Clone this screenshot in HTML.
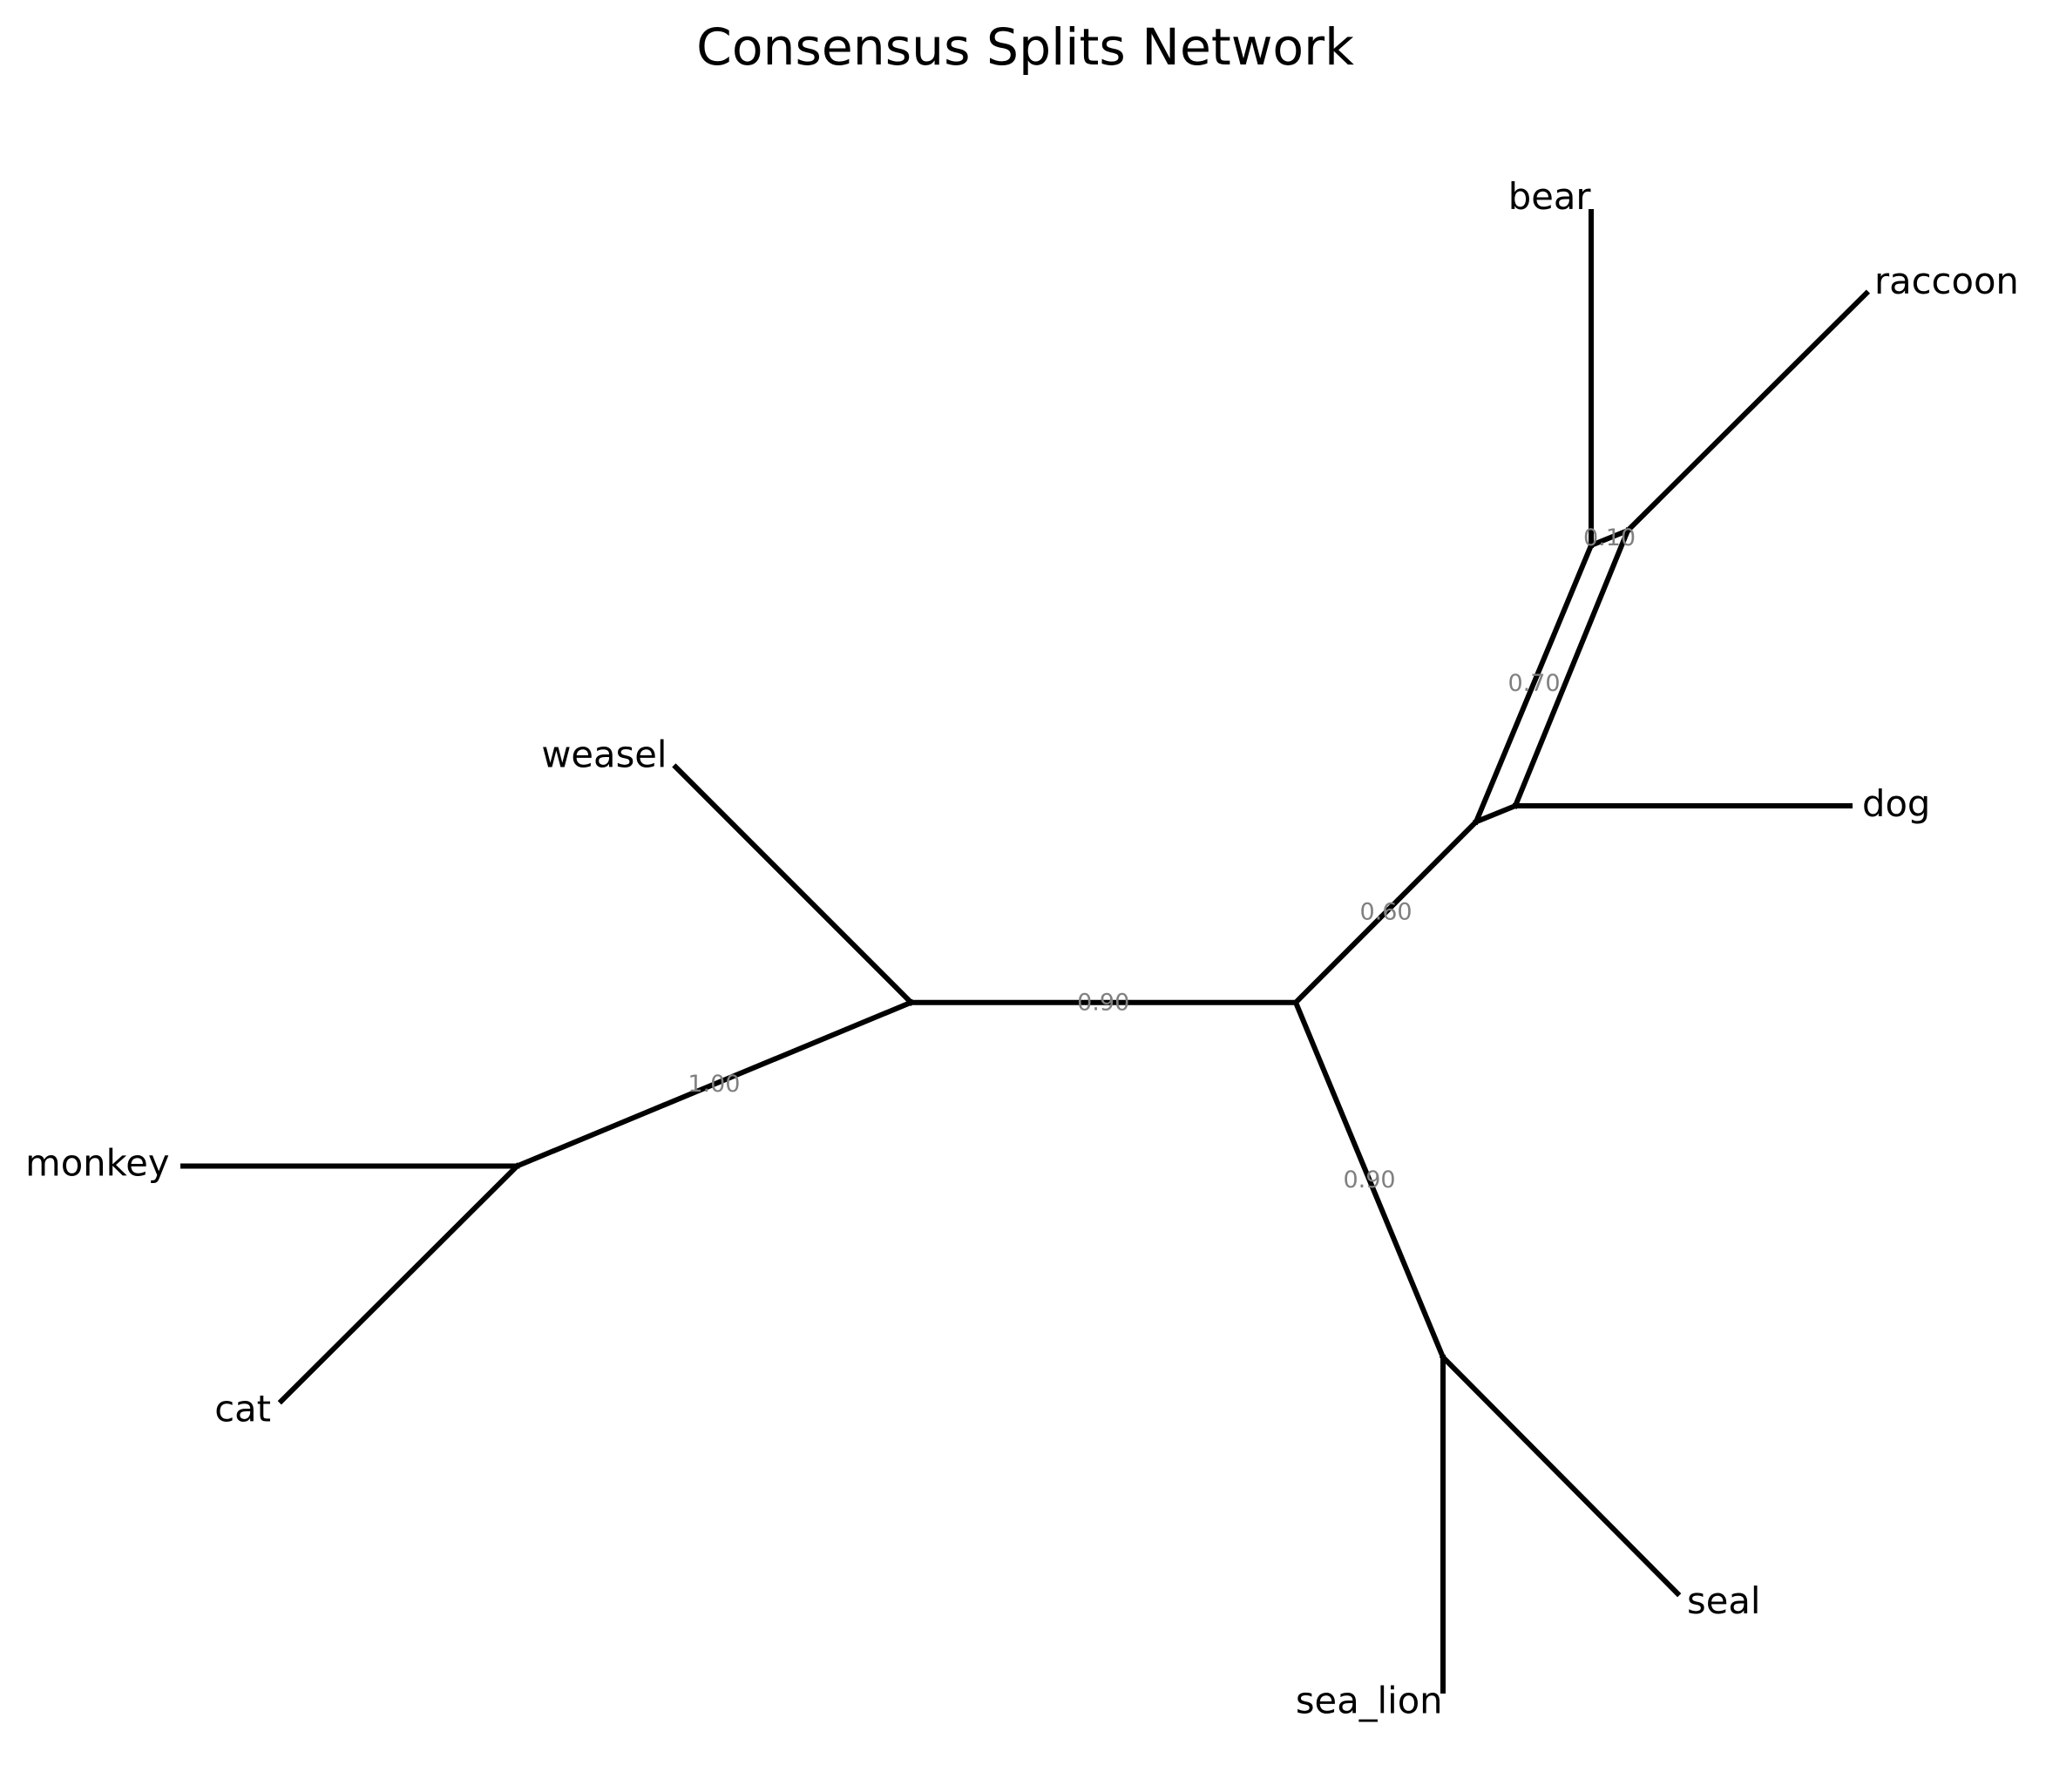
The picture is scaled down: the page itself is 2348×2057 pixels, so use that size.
<!DOCTYPE html>
<html>
<head>
<meta charset="utf-8">
<style>
  html, body { margin: 0; padding: 0; background: #ffffff; }
  svg { display: block; }
  text { font-family: "DejaVu Sans", "Liberation Sans", sans-serif; }
  .node { font-size: 41.67px; fill: #000000; }
  .edge { font-size: 27px; fill: #808080; }
</style>
</head>
<body>
<svg width="2348" height="2057" viewBox="0 0 2348 2057" xmlns="http://www.w3.org/2000/svg">
  <rect x="0" y="0" width="2348" height="2057" fill="#ffffff"/>

  <text x="1176.5" y="74" text-anchor="middle" style="font-size:58.33px" fill="#000000">Consensus Splits Network</text>

  <g stroke="#000000" stroke-width="6" fill="none" stroke-linecap="square" stroke-linejoin="miter">
    <!-- central edge -->
    <line x1="1045.5" y1="1150.7" x2="1487" y2="1150.7"/>
    <!-- weasel -->
    <line x1="1045.5" y1="1150.7" x2="775.5" y2="880.5"/>
    <!-- A to C -->
    <line x1="1045.5" y1="1150.7" x2="593.4" y2="1338.5"/>
    <!-- monkey -->
    <line x1="593.4" y1="1338.5" x2="210" y2="1338.5"/>
    <!-- cat -->
    <line x1="593.4" y1="1338.5" x2="322.9" y2="1608.1"/>
    <!-- B to D -->
    <line x1="1487" y1="1150.7" x2="1694" y2="943.3"/>
    <!-- B to S -->
    <line x1="1487" y1="1150.7" x2="1656" y2="1558"/>
    <!-- sea_lion -->
    <line x1="1656" y1="1558" x2="1656" y2="1941"/>
    <!-- seal -->
    <line x1="1656" y1="1558" x2="1925.1" y2="1829.1"/>
    <!-- parallelogram -->
    <line x1="1694" y1="943.3" x2="1739" y2="925"/>
    <line x1="1694" y1="943.3" x2="1826" y2="626"/>
    <line x1="1739" y1="925" x2="1868" y2="609"/>
    <line x1="1826" y1="626" x2="1868" y2="609"/>
    <!-- dog -->
    <line x1="1739" y1="925" x2="2123" y2="925"/>
    <!-- bear -->
    <line x1="1826" y1="626" x2="1826" y2="243"/>
    <!-- raccoon -->
    <line x1="1868" y1="609" x2="2141.8" y2="336.7"/>
  </g>

  <!-- leaf labels -->
  <text class="node" x="765.5" y="880.7" text-anchor="end">weasel</text>
  <text class="node" x="194.5" y="1349.4" text-anchor="end">monkey</text>
  <text class="node" x="311" y="1631.4" text-anchor="end">cat</text>
  <text class="node" x="1825.5" y="240" text-anchor="end">bear</text>
  <text class="node" x="2151" y="337" text-anchor="start">raccoon</text>
  <text class="node" x="2137" y="937" text-anchor="start">dog</text>
  <text class="node" x="1936" y="1852" text-anchor="start">seal</text>
  <text class="node" x="1655.6" y="1966.6" text-anchor="end">sea_lion</text>

  <!-- split support labels -->
  <text class="edge" x="1266.2" y="1159.3" text-anchor="middle">0.90</text>
  <text class="edge" x="819.4" y="1253.2" text-anchor="middle">1.00</text>
  <text class="edge" x="1590.5" y="1055.6" text-anchor="middle">0.60</text>
  <text class="edge" x="1571.5" y="1362.9" text-anchor="middle">0.90</text>
  <text class="edge" x="1760.5" y="793.2" text-anchor="middle">0.70</text>
  <text class="edge" x="1847" y="626.1" text-anchor="middle">0.10</text>
</svg>
</body>
</html>
